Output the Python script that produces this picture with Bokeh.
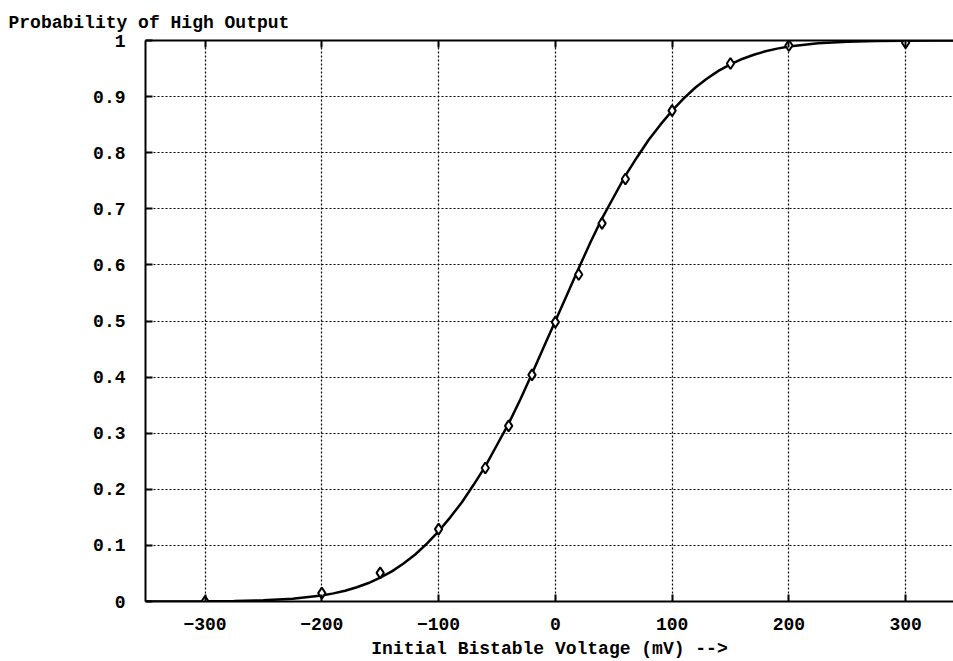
from bokeh.plotting import figure
from bokeh.models import Range1d, FixedTicker, LinearAxis, Title, CustomJSTickFormatter, ColumnDataSource
from bokeh.embed import file_html
from bokeh.resources import INLINE

# Measured data points (initial bistable voltage in mV, probability of high output)
volt_pts = [-300, -200, -150, -100, -60, -40, -20, 0, 20, 40, 60, 100, 150, 200, 300]
prob_pts = [0.0, 0.015, 0.051, 0.129, 0.238, 0.313, 0.404, 0.498, 0.583, 0.674, 0.753, 0.875, 0.959, 0.991, 0.996]

# Fitted curve
volt_curve = [-351, -325, -300, -275, -250, -225, -200, -190, -180, -170, -160, -150, -140, -130,
              -120, -110, -100, -90, -80, -70, -60, -50, -40, -30, -20, -10, 0,
              10, 20, 30, 40, 50, 60, 70, 80, 90, 100, 110, 120, 130, 140, 150, 160, 170,
              180, 190, 200, 225, 250, 275, 300, 325, 341]
prob_curve = [0.0, 0.0001, 0.0003, 0.0008, 0.0021, 0.0048, 0.0107, 0.0145, 0.0192, 0.0254, 0.0329, 0.0425, 0.0537, 0.0676,
              0.0838, 0.1032, 0.1251, 0.1500, 0.1770, 0.2080, 0.2410, 0.2790, 0.3170, 0.3600, 0.4060, 0.4530, 0.5,
              0.5470, 0.5940, 0.6400, 0.6830, 0.7210, 0.7590, 0.7920, 0.8230, 0.8500, 0.8749, 0.8968, 0.9162, 0.9324, 0.9463, 0.9575,
              0.9671, 0.9746, 0.9808, 0.9855, 0.9893, 0.9952, 0.9979, 0.9992, 0.9997, 0.9999, 1.0]

x_ticks = [-300, -200, -100, 0, 100, 200, 300]
y_ticks = [0, 0.1, 0.2, 0.3, 0.4, 0.5, 0.6, 0.7, 0.8, 0.9, 1]

y_title = "Probability of High Output"
x_title = "Initial Bistable Voltage (mV) -->"

FONT = "Liberation Mono"
FS = "18px"

p = figure(width=953, height=661, x_range=Range1d(-351, 341), y_range=Range1d(0, 1),
           output_backend="svg", toolbar_location=None,
           min_border_left=145, min_border_right=0, min_border_top=40, min_border_bottom=59)
p.outline_line_color = None
p.background_fill_color = "white"
p.border_fill_color = "white"

xt = FixedTicker(ticks=x_ticks)
yt = FixedTicker(ticks=y_ticks)

for ax in (p.xaxis[0], p.yaxis[0]):
    ax.axis_line_width = 2
    ax.axis_line_color = "black"
    ax.major_tick_in = 7
    ax.major_tick_out = 0
    ax.major_tick_line_width = 2
    ax.minor_tick_line_color = None
    ax.major_label_text_font = FONT
    ax.major_label_text_font_style = "bold"
    ax.major_label_text_font_size = FS
    ax.major_label_text_color = "black"

p.xaxis[0].ticker = xt
p.yaxis[0].ticker = yt
p.yaxis[0].formatter = CustomJSTickFormatter(code="return String(Math.round(tick*10)/10);")
p.xaxis[0].major_label_standoff = 16
p.yaxis[0].major_label_standoff = 20
p.xaxis[0].axis_label = x_title
p.xaxis[0].axis_label_text_font = FONT
p.xaxis[0].axis_label_text_font_style = "bold"
p.xaxis[0].axis_label_text_font_size = FS
p.xaxis[0].axis_label_text_color = "black"
p.xaxis[0].axis_label_standoff = 6

top = LinearAxis(ticker=xt, formatter=CustomJSTickFormatter(code="return '';"),
                 major_label_standoff=0,
                 axis_line_width=2, major_tick_in=7, major_tick_out=0, major_tick_line_width=2,
                 minor_tick_line_color=None)
p.add_layout(top, "above")

title = Title(text=y_title, align="left", offset=-137, text_font=FONT, text_font_style="bold",
              text_font_size=FS, text_color="black", standoff=16)
p.add_layout(title, "above")

for g, t in ((p.xgrid[0], xt), (p.ygrid[0], yt)):
    g.ticker = t
    g.grid_line_color = "black"
    g.grid_line_dash = "2 2"
    g.grid_line_width = 1.2

p.line(volt_curve, prob_curve, line_color="black", line_width=2.5)
src = ColumnDataSource(dict(v=volt_pts, pr=prob_pts))
p.scatter("v", "pr", source=src, marker="diamond", size=11, fill_color="white",
          line_color="black", line_width=2)

open("out.html", "w").write(file_html(p, INLINE))
